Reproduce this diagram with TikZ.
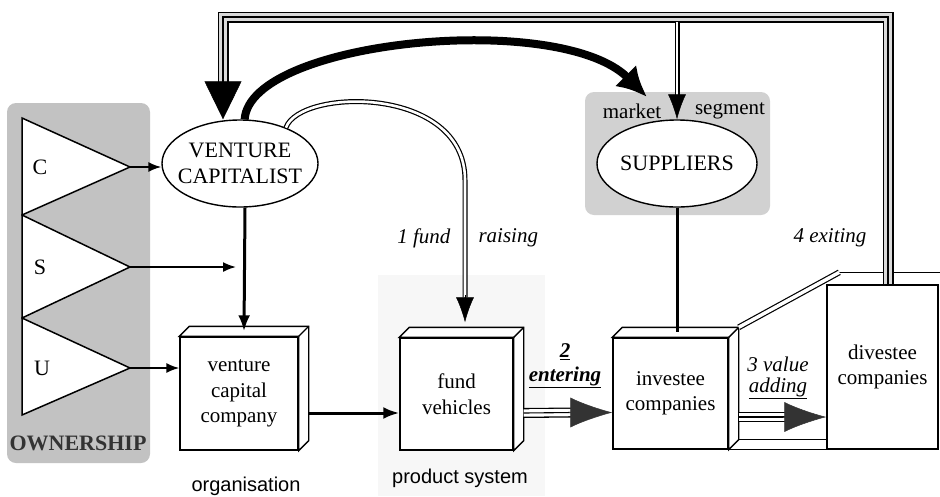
\documentclass[tikz,border=0pt]{standalone}
\usepackage{fontspec}
\setmainfont{Liberation Serif}
\newfontfamily\captionsans{Liberation Sans}
\usetikzlibrary{arrows.meta,shapes.geometric,calc}
\newcommand\boxfaces[1]{%
  \draw[side] (#1.north west) -- ++(10,-10) -- ($(#1.north east)+(10,-10)$)
    -- ($(#1.south east)+(10,-10)$) -- (#1.south east) -- (#1.north east) -- cycle;
  \draw[side] (#1.north east) -- ++(10,-10);}
\begin{document}
\begin{tikzpicture}[x=1pt,y=-1pt,
  panel/.style={fill=black!24, rounded corners=9pt},
  oval/.style={ellipse, draw, line width=1.4pt, fill=white, inner sep=0pt,
    minimum width=156pt, minimum height=87pt},
  ovaltext/.style={align=center, font=\fontsize{22}{26}\selectfont},
  front/.style={draw, line width=1.4pt, fill=white, inner sep=0pt, align=center,
    font=\fontsize{21}{25.5}\selectfont},
  side/.style={draw, line width=1.4pt, fill=white, line join=miter},
  tri/.style={draw, line width=1.5pt, fill=white, line join=miter},
  letter/.style={font=\fontsize{22}{26}\selectfont},
  lab/.style={font=\fontsize{21}{25}\selectfont\itshape},
  boldlab/.style={font=\fontsize{21}{25}\selectfont\bfseries\itshape},
  small arrow/.style={line width=1.8pt, -{Latex[length=13pt,width=10pt]}},
  plain arrow/.style={line width=3pt, -{Latex[length=16pt,width=12pt]}},
  heavy arrow/.style={line width=8pt, -{Latex[length=30pt,width=30pt]}},
  plain line/.style={line width=1.4pt},
  dbl/.style={draw=black, line width=1.2pt, double=white, double distance=2.6pt},
  frame line/.style={preaction={draw=black, line width=11pt}, draw=black!15,
    line width=8.2pt, line join=miter, postaction={draw=black, line width=1.2pt}},
  shaft/.style={preaction={draw=black, line width=10pt}, draw=white,
    line width=7.4pt, postaction={draw=black, line width=1.1pt}},
  med head/.style={line width=0.5pt, -{Latex[length=25pt,width=18pt]}},
  vc head/.style={line width=0.5pt, -{Triangle[length=38pt,width=37pt]}},
  big head/.style={line width=0.5pt, draw=black!80, -{Latex[length=42pt,width=30pt]}},
  note/.style={font=\captionsans\fontsize{20}{24}\selectfont}
]
\useasboundingbox (0,0) rectangle (940,496);

% background panels
\fill[black!3] (378,275) rectangle (545,496);
\fill[panel] (7,103) rectangle (150,463);
\fill[panel, fill=black!18] (585,92) rectangle (770,215);

% ownership triangles
\coordinate (t0) at (22,118);
\coordinate (t1) at (22,215);
\coordinate (t2) at (22,318);
\coordinate (t3) at (22,415);
\coordinate (ca) at (130,167);
\coordinate (sa) at (130,267);
\coordinate (ua) at (130,368);
\draw[tri] (t0) -- (ca) -- (t1) -- cycle;
\draw[tri] (t1) -- (sa) -- (t2) -- cycle;
\draw[tri] (t2) -- (ua) -- (t3) -- cycle;
\node[letter] (cl) at (40,167) {C};
\node[letter] (sl) at (40,267) {S};
\node[letter] (ul) at (42,368) {U};
\node[font=\fontsize{22}{26}\selectfont\bfseries, text=black!80] (own) at (78,443) {OWNERSHIP};

% ovals
\node[oval] (vc) at (240,163.5) {};
\node[ovaltext] (vct) at (vc) {VENTURE\\CAPITALIST};
\node[oval, minimum width=160pt] (sup) at (677,163.5) {};
\node[ovaltext] (supt) at (sup) {SUPPLIERS};
\node[font=\fontsize{21}{25}\selectfont] (mk) at (632,111) {market};
\node[font=\fontsize{21}{25}\selectfont] (sg) at (730,111) {segment};

% boxes
\node[front, minimum width=118pt, minimum height=113pt] (vcc) at (239,393.5) {venture\\capital\\company};
\boxfaces{vcc}
\node[front, minimum width=113pt, minimum height=112pt] (fv) at (456.5,394) {fund\\vehicles};
\boxfaces{fv}
\node[front, minimum width=115pt, minimum height=111pt] (inv) at (670.5,393.5) {investee\\companies};
\boxfaces{inv}

% stage between investee and divestee
\node[front, minimum width=111pt, minimum height=164pt] (dv) at (882.5,367) {divestee\\companies};
\draw[plain line] ($(dv.north west)+(13,-12)$) -- ($(dv.north east)+(3,-12)$);
\draw[dbl, double distance=3.5pt] ($(inv.north east)+(10,-10)$) -- ($(dv.north west)+(13,-12)$);
\draw[plain line] ($(inv.south east)+(10,-10)$) -- ($(dv.south west)+(0,-10)$);
\draw[plain line] (inv.south east) -- (dv.south west);

% captions
\node[note] (org) at (246,486) {organisation};
\node[note] (ps) at (460,478) {product system};

% ownership flows
\coordinate (sEnd) at (236,267);
\draw[small arrow] (ca) -- (ca -| vc.west);
\draw[small arrow] (sa) -- (sEnd);
\draw[small arrow] (ua) -- (ua -| vcc.west);

% organisation flows
\draw[plain arrow] ($(vc.south)+(5,0)$) -- ($(vcc.north)+(5,-5)$);
\draw[plain arrow] ($(vcc.east)+(10,19.5)$) -- ($(fv.west)+(0,19)$);

% 1 fund raising
\coordinate (fr) at (465,180);
\draw[dbl] (vc.38) .. controls (300,88) and (465,85) .. (fr) -- ($(fv.north)+(8.5,-40)$);
\draw[med head] ($(fv.north)+(8.5,-42)$) -- ($(fv.north)+(8.5,-15)$);
\node[lab, anchor=east] (l1a) at (454,238) {1 fund};
\node[lab, anchor=west] (l1b) at (475,238) {raising};

% venture capitalist to suppliers
\coordinate (supIn) at (647,97);
\draw[heavy arrow] (vc.84) .. controls (250,40) and (560,10) .. (supIn);

% 4 exiting frame
\coordinate (ftr) at (888,17);
\coordinate (ftl) at (223,17);
\draw[frame line] ($(dv.north)+(5.5,0)$) -- (ftr) -- (ftl) -- ($(ftl |- vc.north)+(0,-36)$);
\draw[vc head] ($(ftl |- vc.north)+(0,-38)$) -- (ftl |- vc.north);
\draw[dbl] ($(sup.north |- ftl)+(0,5)$) -- ($(sup.north)+(0,-22)$);
\draw[med head] ($(sup.north)+(0,-24)$) -- (sup.north);
\draw[line width=3pt] (sup.south) -- ($(sup.south |- inv.north)+(0,-5)$);
\node[lab] (l4) at (830,238) {4 exiting};

% 2 entering
\draw[shaft] ($(fv.east)+(10,19)$) -- ($(inv.west)+(-40,19)$);
\draw[big head] ($(inv.west)+(-43,19)$) -- ($(inv.west)+(0,19)$);
\node[boldlab] (l2a) at (565,352) {\underline{2}};
\node[boldlab] (l2b) at (565,377) {\underline{entering}};

% 3 value adding
\draw[shaft] ($(inv.east)+(10,23.5)$) -- ($(dv.west |- inv.east)+(-40,23.5)$);
\draw[big head] ($(dv.west |- inv.east)+(-43,23.5)$) -- ($(dv.west |- inv.east)+(0,23.5)$);
\node[lab] (l3a) at (778,364) {3 value};
\node[lab] (l3b) at (778,388) {\underline{adding}};
\end{tikzpicture}
\end{document}
